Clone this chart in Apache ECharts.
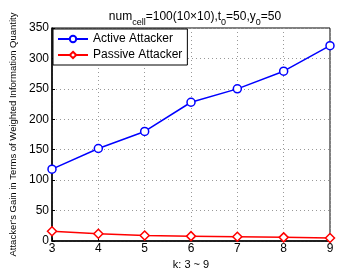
<!DOCTYPE html>
<html>
<head>
<meta charset="utf-8">
<script src="https://cdn.jsdelivr.net/npm/echarts@6/dist/echarts.min.js"></script>
<style>
  html, body { margin: 0; padding: 0; background: #fff; }
  #chart { width: 341px; height: 276px; }
</style>
</head>
<body>
<div id="chart"></div>
<script>
const kValues = ['3', '4', '5', '6', '7', '8', '9']
const activeGain = [118, 152, 180, 228, 250, 279, 321]
const passiveGain = [16, 12, 9, 8, 7, 6, 5]
const yTicks = { min: 0, max: 350, interval: 50 }

const chart = echarts.init(document.getElementById('chart'))
const font = 'Liberation Sans, Arial, sans-serif'

const option = {
  animation: false,
  title: {
    text: '{n|num}{s|cell}{n|=100(10×10),t}{s|0}{n|=50,y}{s|0}{n|=50}',
    left: 190,
    top: 4,
    textAlign: 'center',
    textStyle: {
      fontWeight: 'normal',
      rich: {
        n: { fontSize: 12, fontFamily: font, fontWeight: 'normal', color: '#000', verticalAlign: 'bottom', lineHeight: 14 },
        s: { fontSize: 9, fontFamily: font, fontWeight: 'normal', color: '#000', verticalAlign: 'bottom', lineHeight: 8, padding: [0, 0, -4, 0] }
      }
    }
  },
  legend: {
    left: 53,
    top: 29,
    orient: 'vertical',
    itemWidth: 30,
    itemHeight: 8,
    itemGap: 4,
    padding: [4, 5, 4, 4],
    borderColor: '#000',
    borderWidth: 1,
    backgroundColor: '#fff',
    textStyle: { fontSize: 12, fontFamily: font, color: '#000' },
    data: ['Active Attacker', 'Passive Attacker']
  },
  grid: {
    left: 52,
    right: 11,
    top: 28,
    bottom: 35,
    containLabel: false,
    outerBoundsMode: 'none',
    show: true,
    borderColor: '#000',
    borderWidth: 1
  },
  xAxis: {
    type: 'category',
    data: kValues,
    boundaryGap: false,
    name: 'k: 3 ~ 9',
    nameLocation: 'middle',
    nameGap: 17,
    nameTextStyle: { fontSize: 11, fontFamily: font, color: '#000' },
    axisLine: { lineStyle: { color: '#000', width: 1.5 } },
    axisTick: { inside: true, length: 3, lineStyle: { color: '#000' } },
    axisLabel: { fontSize: 12, fontFamily: font, color: '#000', margin: 2 },
    splitLine: { show: true, lineStyle: { color: '#999', type: [1, 3], width: 1 } }
  },
  yAxis: {
    type: 'value',
    min: yTicks.min,
    max: yTicks.max,
    interval: yTicks.interval,
    name: "Attacker's Gain in Terms of Weighted Information Quantity",
    nameLocation: 'middle',
    nameGap: 28,
    nameTextStyle: { fontSize: 9.5, fontFamily: font, color: '#000' },
    axisLine: { show: true, lineStyle: { color: '#000', width: 1.5 } },
    axisTick: { show: true, inside: true, length: 3, lineStyle: { color: '#000' } },
    axisLabel: { fontSize: 12, fontFamily: font, color: '#000', margin: 3 },
    splitLine: { show: true, lineStyle: { color: '#999', type: [1, 3], width: 1 } }
  },
  series: [
    {
      name: 'Active Attacker',
      type: 'line',
      data: activeGain,
      symbol: 'circle',
      symbolSize: 8,
      color: '#0000ff',
      lineStyle: { width: 1.5, color: '#0000ff' },
      itemStyle: { color: '#fff', borderColor: '#0000ff', borderWidth: 1.5 }
    },
    {
      name: 'Passive Attacker',
      type: 'line',
      data: passiveGain,
      symbol: 'diamond',
      symbolSize: 9,
      color: '#ff0000',
      lineStyle: { width: 1.5, color: '#ff0000' },
      itemStyle: { color: '#fff', borderColor: '#ff0000', borderWidth: 1.5 }
    }
  ]
}

chart.setOption(option)
</script>
</body>
</html>
